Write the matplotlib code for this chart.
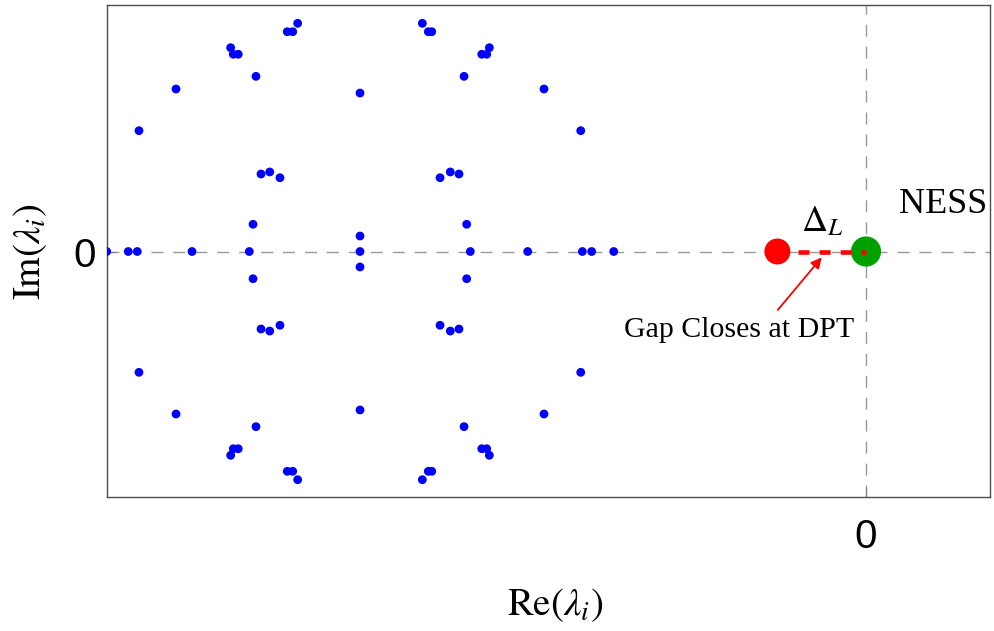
import matplotlib
matplotlib.use("Agg")
import matplotlib.pyplot as plt
import numpy as np

plt.rcParams["mathtext.fontset"] = "stix"

# Liouvillian spectrum, upper half-plane (lower half = complex conjugates)
re_upper = [-5.616, -5.719, -5.665, -6.278, -6.252, -6.203, -6.028, -6.818, -5.000,
            -7.184, -5.978, -5.892, -5.791, -6.057, -5.000,
            -4.384, -4.325, -4.291, -3.722, -3.797, -3.748, -3.972, -3.182,
            -2.819, -4.209, -4.108, -4.022, -3.946]
im_upper = [2.255, 2.172, 2.172, 2.014, 1.949, 1.949, 1.731, 1.606, 1.566,
            1.194, 0.766, 0.786, 0.729, 0.269, 0.153,
            2.255, 2.172, 2.172, 2.014, 1.949, 1.949, 1.731, 1.606,
            1.194, 0.729, 0.786, 0.766, 0.269]
# purely real eigenvalues
re_real = [-7.503, -7.290, -7.201, -6.660, -6.094, -5.000,
           -3.910, -3.343, -2.803, -2.711, -2.493]

gap_eig = -0.876   # slowest decaying mode
ness_eig = 0.0     # steady state

re_all = np.concatenate([re_upper, re_upper, re_real])
im_all = np.concatenate([im_upper, -np.array(im_upper), np.zeros(len(re_real))])

fig = plt.figure(figsize=(9.95, 6.31), dpi=100)
ax = fig.add_axes([107 / 995, 1 - 497 / 631, 883 / 995, 492 / 631])

ax.axhline(0, color="#999999", lw=1.0, dashes=(8.6, 7.2), zorder=1)
ax.axvline(0, color="#999999", lw=1.0, dashes=(8.6, 7.2), zorder=1)

ax.scatter(re_all, im_all, s=40, color="#0000ff", edgecolors="none", zorder=3)

ax.scatter([ness_eig], [0], s=470, color="#00a000", edgecolors="none", zorder=4)
ax.scatter([gap_eig], [0], s=350, color="#ff0000", edgecolors="none", zorder=4)
ax.plot([gap_eig, ness_eig], [0, 0], color="#ff0000", lw=3.3,
        dashes=(2.4, 2.2), solid_capstyle="butt", zorder=5)

ax.text(-0.43, 0.30, r"$\Delta_L$", fontsize=26, ha="center", va="center")
ax.text(0.76, 0.46, "NESS", fontsize=26, family="Liberation Serif",
        ha="center", va="center")
ax.annotate("", xy=(-0.437, -0.058), xytext=(-0.872, -0.578),
            arrowprops=dict(arrowstyle="-|>", color="#ff0000", lw=1.3,
                            mutation_scale=16, shrinkA=0, shrinkB=0))
ax.text(-1.255, -0.78, "Gap Closes at DPT", fontsize=21.5,
        family="Liberation Serif", ha="center", va="center")

ax.set_xlim(-7.50, 1.225)
ax.set_ylim(-2.426, 2.436)
ax.set_xticks([0])
ax.set_yticks([0])
ax.set_xticklabels(["0"], family="Liberation Sans", fontsize=29)
ax.set_yticklabels(["0"], family="Liberation Sans", fontsize=29)
ax.tick_params(axis="x", direction="in", length=6.5, color="0.5", pad=15)
ax.tick_params(axis="y", direction="in", length=6.5, color="0.5", pad=8)
for sp in ax.spines.values():
    sp.set_color("0.3")
    sp.set_linewidth(1.0)

fig.text(555 / 995, 1 - 605 / 631, r"$\mathrm{Re}(\lambda_i)$", fontsize=28,
         ha="center", va="center")
fig.text(30 / 995, 1 - 252 / 631, r"$\mathrm{Im}(\lambda_i)$", fontsize=28,
         ha="center", va="center", rotation=90)

fig.savefig("out.png", dpi=100)
